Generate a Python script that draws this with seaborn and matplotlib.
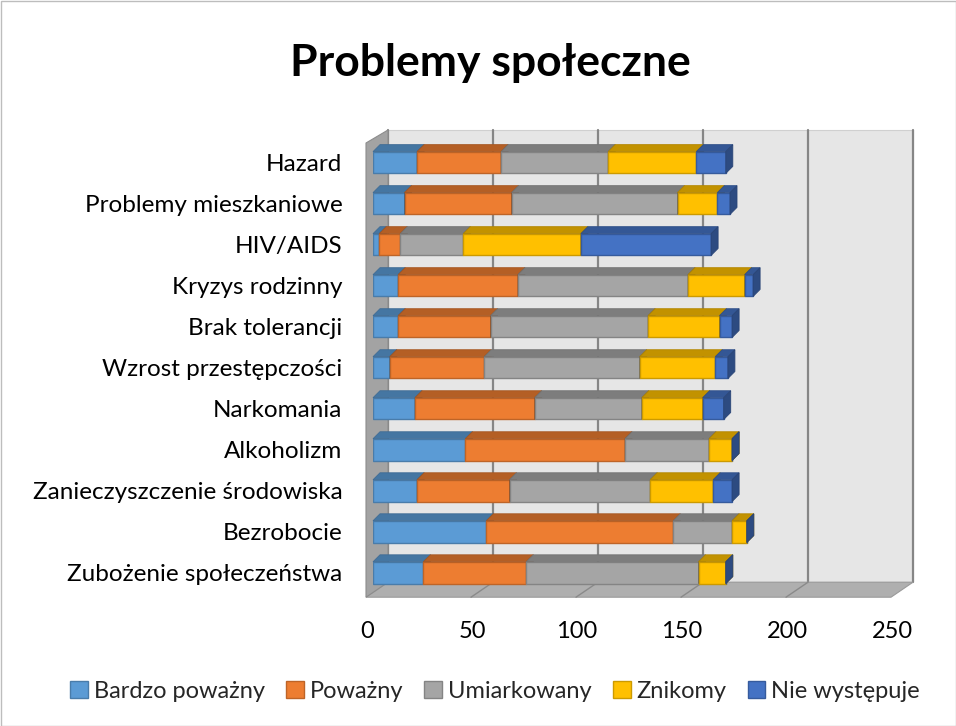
import numpy as np
import pandas as pd
import matplotlib
matplotlib.use("Agg")
import matplotlib.pyplot as plt
import seaborn as sns
from matplotlib.patches import Polygon, Rectangle
from matplotlib.transforms import IdentityTransform, ScaledTranslation
import matplotlib.colors as mcolors

# ---------------- data ----------------
categories = ["Hazard", "Problemy mieszkaniowe", "HIV/AIDS", "Kryzys rodzinny",
              "Brak tolerancji", "Wzrost przestępczości", "Narkomania", "Alkoholizm",
              "Zanieczyszczenie środowiska", "Bezrobocie", "Zubożenie społeczeństwa"]
bardzo_powazny = [21, 15, 3, 12, 12, 8, 20, 44, 21, 54, 24]
powazny = [40, 51, 10, 57, 44, 45, 57, 76, 44, 89, 49]
umiarkowany = [51, 79, 30, 81, 75, 74, 51, 40, 67, 28, 82]
znikomy = [42, 19, 56, 27, 34, 36, 29, 11, 30, 7, 13]
nie_wystepuje = [14, 6, 62, 4, 6, 6, 10, 0, 9, 0, 0]
series_names = ["Bardzo poważny", "Poważny", "Umiarkowany", "Znikomy", "Nie występuje"]
x_ticks = [0, 50, 100, 150, 200, 250]
title = "Problemy społeczne"

colors = ["#5B9BD5", "#ED7D31", "#A5A5A5", "#FFC000", "#4472C4"]

def shade(c, f):
    r, g, b = mcolors.to_rgb(c)
    return (r * f, g * f, b * f)

# ---------------- figure ----------------
sns.set_theme(style="white")
plt.rcParams['font.family'] = ['Lato', 'DejaVu Sans']

W, H = 956, 726
fig = plt.figure(figsize=(W / 100, H / 100), dpi=100)
fig.patch.set_facecolor("white")
ax_l, ax_r, ax_t, ax_b = 373, 898, 142, 593.2
ax = fig.add_axes([ax_l / W, (H - ax_b) / H, (ax_r - ax_l) / W, (ax_b - ax_t) / H])

series = [bardzo_powazny, powazny, umiarkowany, znikomy, nie_wystepuje]
vals = np.array(series, dtype=float)
cum = np.cumsum(vals, axis=0)

# draw cumulative bars (widest first) with seaborn, then trim to segments
patch_groups = {}
for i in reversed(range(len(series))):
    n_before = len(ax.patches)
    sns.barplot(x=cum[i], y=categories, orient="y", color=colors[i],
                saturation=1, width=0.53, ax=ax)
    patch_groups[i] = ax.patches[n_before:]

ax.set_xlim(x_ticks[0], x_ticks[-1])
ax.set_ylim(len(categories) - 0.5, -0.5)
ax.patch.set_visible(False)
for s in ax.spines.values():
    s.set_visible(False)
ax.set_xlabel("")
ax.set_ylabel("")

# geometry helpers (display pixels, y up)
def disp(x, yfrac):
    xd = ax.transData.transform((x, 0))[0]
    yd = ax.transAxes.transform((0, yfrac))[1]
    return xd, yd

ident = IdentityTransform()
x0d, ybot = disp(0, 0)
_, ytop = disp(0, 1)
x250d, _ = disp(x_ticks[-1], 0)
BACK_DX, BACK_TOP, BACK_BOT = 15, 12, 11
FRONT_DX, FRONT_BOT = -7, -4

# back wall
ax.add_patch(Polygon([(x0d + BACK_DX, ybot + BACK_BOT), (x250d + BACK_DX, ybot + BACK_BOT),
                      (x250d + BACK_DX, ytop + BACK_TOP), (x0d + BACK_DX, ytop + BACK_TOP)],
                     closed=True, transform=ident, facecolor="#e6e6e6",
                     edgecolor="#d0d0d0", lw=0.8, zorder=0, clip_on=False))
for t in x_ticks:
    xd, _ = disp(t, 0)
    ax.add_line(plt.Line2D([xd + BACK_DX, xd + BACK_DX], [ybot + BACK_BOT, ytop + BACK_TOP],
                           transform=ident, color="#868686", lw=1.6, zorder=1, clip_on=False))
# floor
ax.add_patch(Polygon([(x0d + FRONT_DX, ybot + FRONT_BOT), (x250d + FRONT_DX, ybot + FRONT_BOT),
                      (x250d + BACK_DX, ybot + BACK_BOT), (x0d + BACK_DX, ybot + BACK_BOT)],
                     closed=True, transform=ident, facecolor="#afafaf",
                     edgecolor="#9a9a9a", lw=0.8, zorder=2, clip_on=False))
for t in x_ticks[1:-1]:
    xd, _ = disp(t, 0)
    ax.add_line(plt.Line2D([xd + FRONT_DX, xd + BACK_DX], [ybot + FRONT_BOT, ybot + BACK_BOT],
                           transform=ident, color="#8a8a8a", lw=1.0, zorder=2.5, clip_on=False))
# left wall
ax.add_patch(Polygon([(x0d + FRONT_DX, ybot + FRONT_BOT), (x0d + BACK_DX, ybot + BACK_BOT),
                      (x0d + BACK_DX, ytop + BACK_TOP), (x0d + FRONT_DX, ytop - 1)],
                     closed=True, transform=ident, facecolor="#a3a3a3",
                     edgecolor="#8c8c8c", lw=0.8, zorder=2, clip_on=False))

# trim bars to their segments and add 3D faces
DX, DY = 7, 7
for i in range(len(series)):
    start = cum[i] - vals[i]
    for j, p in enumerate(patch_groups[i]):
        p.set_x(start[j])
        p.set_width(vals[i][j])
        p.set_facecolor(colors[i])
        p.set_edgecolor(shade(colors[i], 0.8))
        p.set_linewidth(1.0)
        p.set_zorder(10 + 3 * i)
        y0 = p.get_y()
        y1 = y0 + p.get_height()
        xa, ya0 = ax.transData.transform((start[j], y0))
        xb, ya1 = ax.transData.transform((start[j] + vals[i][j], y1))
        yt, yb = max(ya0, ya1), min(ya0, ya1)  # display top / bottom
        top = Polygon([(xa, yt), (xb, yt), (xb + DX, yt + DY), (xa + DX, yt + DY)],
                      closed=True, transform=ident, facecolor=shade(colors[i], 0.76),
                      edgecolor=shade(colors[i], 0.7), lw=0.6, zorder=11 + 3 * i, clip_on=False)
        side = Polygon([(xb, yb), (xb, yt), (xb + DX, yt + DY), (xb + DX, yb + DY)],
                       closed=True, transform=ident, facecolor=shade(colors[i], 0.66),
                       edgecolor=shade(colors[i], 0.6), lw=0.6, zorder=12 + 3 * i, clip_on=False)
        ax.add_patch(top)
        ax.add_patch(side)

# ticks
ax.set_xticks(x_ticks)
ax.set_xticklabels([str(t) for t in x_ticks])
ax.tick_params(axis="x", length=0, pad=20, labelsize=17, labelcolor="black")
ax.tick_params(axis="y", length=0, pad=22, labelsize=17.5, labelcolor="black")
for lbl in ax.get_xticklabels():
    lbl.set_transform(lbl.get_transform() + ScaledTranslation(-6 / 100, 0, fig.dpi_scale_trans))

# title
fig.text(490 / W, 1 - 63 / H, title, ha="center", va="center",
         fontsize=32, fontweight="bold", color="black")

# legend
handles = [Rectangle((0, 0), 1, 1, facecolor=c, edgecolor=shade(c, 0.8), lw=1) for c in colors]
fig.legend(handles, series_names, loc="center", bbox_to_anchor=(495 / W, 1 - 691 / H),
           ncol=5, frameon=False, fontsize=17, handlelength=0.75, handleheight=0.75,
           handletextpad=0.25, columnspacing=0.9, borderpad=0)

# chart border
fig.add_artist(Rectangle((0.5 / W, 0.5 / H), (W - 1) / W, (H - 1) / H, transform=fig.transFigure,
                         facecolor="none", edgecolor="#bdbdbd", lw=1))

fig.savefig("out.png", dpi=100)
